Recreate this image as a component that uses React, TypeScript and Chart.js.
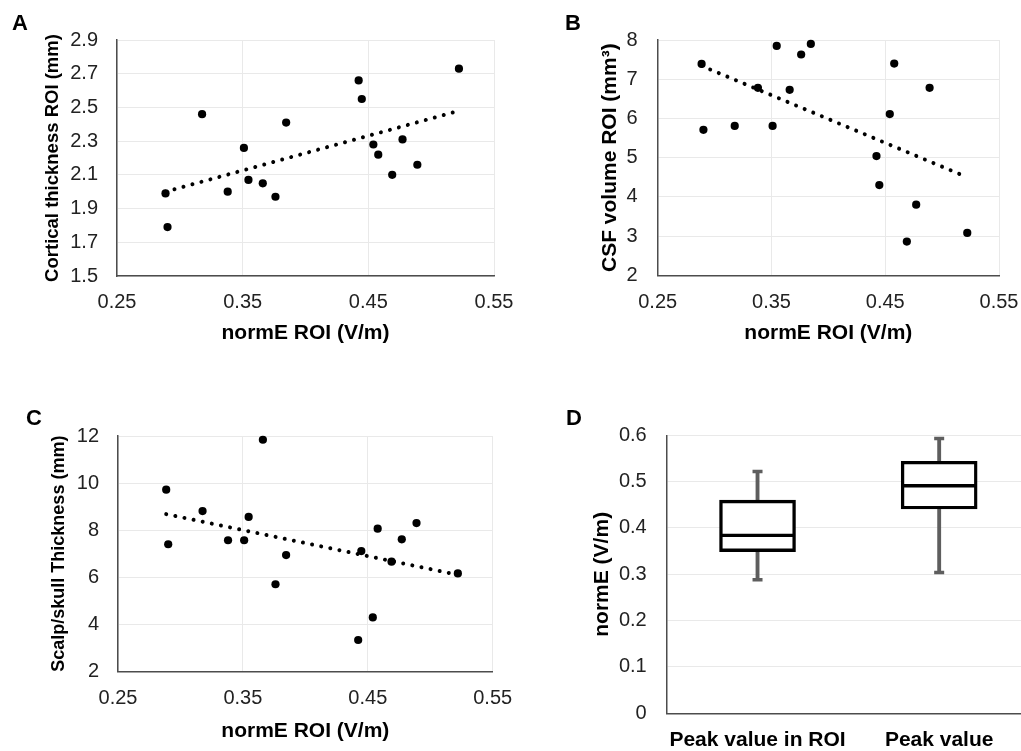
import React, { useEffect, useRef } from "react";
import { Chart, registerables } from "chart.js";
Chart.register(...registerables);

const FONT = "'Liberation Sans', Arial, Helvetica, sans-serif";

// Shared x values: normE in ROI (V/m), one per subject
const normE = [0.2886, 0.2902, 0.3177, 0.3381, 0.351, 0.3546, 0.366, 0.3761, 0.3846, 0.4423, 0.4448, 0.454, 0.4579, 0.469, 0.4772, 0.489, 0.5221];
// Panel A: cortical thickness ROI (mm)
const corticalThickness = [1.99, 1.79, 2.46, 2.0, 2.26, 2.07, 2.05, 1.97, 2.41, 2.66, 2.55, 2.28, 2.22, 2.1, 2.31, 2.16, 2.73];
// Panel B: CSF volume ROI (mm3)
const csfVolume = [7.39, 5.71, 5.81, 6.78, 5.81, 7.85, 6.73, 7.63, 7.9, 5.04, 4.3, 6.11, 7.4, 2.86, 3.8, 6.78, 3.08];
// Panel C: scalp/skull thickness (mm)
const scalpSkull = [9.72, 7.4, 8.81, 7.57, 7.57, 8.56, 11.84, 5.7, 6.94, 3.33, 7.11, 4.29, 8.06, 6.66, 7.61, 8.3, 6.16];

// Trend lines (at both ends)
const trendX = [0.2886, 0.5221];
const trendCortical = [2.0, 2.48];
const trendCsf = [7.34, 4.5];
const trendScalp = [8.68, 6.1];

// Axis ticks
const xTicksNormE = [0.25, 0.35, 0.45, 0.55];
const yTicksCortical = [1.5, 1.7, 1.9, 2.1, 2.3, 2.5, 2.7, 2.9];
const yTicksCsf = [2, 3, 4, 5, 6, 7, 8];
const yTicksScalp = [2, 4, 6, 8, 10, 12];
const yTicksBox = [0, 0.1, 0.2, 0.3, 0.4, 0.5, 0.6];

// Panel D box plot
const boxGroups = ["Peak value in ROI", "Peak value"];
const whiskerMin = [0.288, 0.304];
const boxQ1 = [0.349, 0.441];
const boxMedian = [0.384, 0.491];
const boxQ3 = [0.46, 0.544];
const whiskerMax = [0.522, 0.593];

const GRID = "#e9e9e9";
const AXIS = "#4d4d4d";
const WHISKER = "#5e5e5e";

const letterPlugin = (letter: string, x: number, y: number) => ({
  id: "letter" + letter,
  afterDraw(chart: any) {
    const ctx = chart.ctx;
    ctx.save();
    ctx.font = `bold 22px ${FONT}`;
    ctx.fillStyle = "#000";
    ctx.textBaseline = "alphabetic";
    ctx.textAlign = "left";
    ctx.fillText(letter, x, y);
    ctx.restore();
  },
});

type Frame = {
  cl: number; ct: number; cw: number; ch: number; // canvas rect
  L: number; T: number; R: number; B: number; // chart area (page coords)
};

function fixY(f: Frame) {
  return (s: any) => {
    s.width = f.L - f.cl;
    s.paddingTop = 0;
    s.paddingBottom = 0;
  };
}
function fixX(f: Frame) {
  return (s: any) => {
    s.height = f.ct + f.ch - f.B;
    s.paddingLeft = 0;
    s.paddingRight = 0;
  };
}

function scatterConfig(
  f: Frame,
  ys: number[],
  trendY: number[],
  yTicks: number[],
  yDec: number,
  yTitle: string,
  yTitleSize: number,
  yTitleCenter: number,
  yTickPad: number,
  xTickCenter: number,
  xTitleCenter: number,
  letter: string,
  lx: number,
  ly: number
) {
  const pts = normE.map((x, i) => ({ x, y: ys[i] }));
  const trend = trendX.map((x, i) => ({ x, y: trendY[i] }));
  return {
    type: "scatter",
    data: {
      datasets: [
        {
          type: "line",
          data: trend,
          borderColor: "#000",
          borderWidth: 4,
          borderDash: [0.01, 9.3],
          borderCapStyle: "round",
          pointRadius: 0,
          fill: false,
          tension: 0,
          clip: false,
        },
        {
          data: pts,
          backgroundColor: "#000",
          borderColor: "#000",
          pointRadius: 4.1,
          pointBorderWidth: 0,
          clip: false,
        },
      ],
    },
    options: {
      responsive: false,
      animation: false,
      devicePixelRatio: 1,
      layout: { autoPadding: false, padding: { left: 0, top: f.T - f.ct, right: f.cl + f.cw - f.R, bottom: 0 } },
      plugins: { legend: { display: false }, tooltip: { enabled: false } },
      scales: {
        x: {
          type: "linear",
          min: xTicksNormE[0],
          max: xTicksNormE[xTicksNormE.length - 1],
          afterFit: fixX(f),
          afterBuildTicks: (s: any) => {
            s.ticks = xTicksNormE.map((v) => ({ value: v }));
          },
          grid: { color: GRID, lineWidth: 1, drawTicks: false },
          border: { color: AXIS, width: 1.5 },
          ticks: {
            autoSkip: false,
            maxRotation: 0,
            padding: xTickCenter - f.B - 12,
            color: "#222",
            font: { family: FONT, size: 20 },
            callback: (v: any) => Number(v).toFixed(2),
          },
          title: {
            display: true,
            text: "normE ROI (V/m)",
            color: "#000",
            font: { family: FONT, size: 21, weight: "bold" },
            padding: { top: 0, bottom: f.ct + f.ch - xTitleCenter - 12.6 },
          },
        },
        y: {
          type: "linear",
          min: yTicks[0],
          max: yTicks[yTicks.length - 1],
          afterFit: fixY(f),
          afterBuildTicks: (s: any) => {
            s.ticks = yTicks.map((v) => ({ value: v }));
          },
          grid: { color: GRID, lineWidth: 1, drawTicks: false },
          border: { color: AXIS, width: 1.5 },
          ticks: {
            autoSkip: false,
            padding: yTickPad,
            color: "#222",
            font: { family: FONT, size: 20 },
            callback: (v: any) => Number(v).toFixed(yDec),
          },
          title: {
            display: true,
            text: yTitle,
            color: "#000",
            font: { family: FONT, size: yTitleSize, weight: "bold" },
            padding: { top: yTitleCenter - f.cl - (yTitleSize * 1.2) / 2, bottom: 0 },
          },
        },
      },
    },
    plugins: [letterPlugin(letter, lx - f.cl, ly - f.ct)],
  };
}

function boxConfig(f: Frame) {
  return {
    type: "bar",
    data: {
      labels: boxGroups,
      datasets: [
        {
          type: "line",
          data: boxMedian,
          showLine: false,
          pointStyle: "line",
          pointRadius: 36,
          pointBorderWidth: 3.4,
          pointBorderColor: "#000",
          order: 0,
        },
        {
          type: "line",
          data: whiskerMax,
          showLine: false,
          pointStyle: "line",
          pointRadius: 5,
          pointBorderWidth: 3.5,
          pointBorderColor: WHISKER,
          order: 0,
        },
        {
          type: "line",
          data: whiskerMin,
          showLine: false,
          pointStyle: "line",
          pointRadius: 5,
          pointBorderWidth: 3.5,
          pointBorderColor: WHISKER,
          order: 0,
        },
        {
          data: boxQ1.map((q, i) => [q, boxQ3[i]]),
          backgroundColor: "#fff",
          borderColor: "#000",
          borderWidth: 3.4,
          borderSkipped: false,
          barThickness: 76,
          grouped: false,
          order: 1,
        },
        {
          data: whiskerMin.map((m, i) => [m, boxQ1[i]]),
          backgroundColor: WHISKER,
          borderWidth: 0,
          barThickness: 3.2,
          grouped: false,
          order: 2,
        },
        {
          data: boxQ3.map((q, i) => [q, whiskerMax[i]]),
          backgroundColor: WHISKER,
          borderWidth: 0,
          barThickness: 3.2,
          grouped: false,
          order: 2,
        },
      ],
    },
    options: {
      responsive: false,
      animation: false,
      devicePixelRatio: 1,
      layout: { autoPadding: false, padding: { left: 0, top: f.T - f.ct, right: f.cl + f.cw - f.R, bottom: 0 } },
      plugins: { legend: { display: false }, tooltip: { enabled: false } },
      scales: {
        x: {
          type: "category",
          offset: true,
          afterFit: fixX(f),
          grid: { display: false, drawTicks: false },
          border: { color: AXIS, width: 1.5 },
          ticks: {
            autoSkip: false,
            maxRotation: 0,
            minRotation: 0,
            padding: 740 - f.B - 12.6,
            color: "#000",
            font: { family: FONT, size: 21, weight: "bold" },
          },
        },
        y: {
          type: "linear",
          min: yTicksBox[0],
          max: yTicksBox[yTicksBox.length - 1],
          afterFit: fixY(f),
          afterBuildTicks: (s: any) => {
            s.ticks = yTicksBox.map((v) => ({ value: v }));
          },
          grid: { color: GRID, lineWidth: 1, drawTicks: false },
          border: { color: AXIS, width: 1.5 },
          ticks: {
            autoSkip: false,
            padding: 20,
            color: "#222",
            font: { family: FONT, size: 20 },
            callback: (v: any) => (Number(v) === 0 ? "0" : Number(v).toFixed(1)),
          },
          title: {
            display: true,
            text: "normE (V/m)",
            color: "#000",
            font: { family: FONT, size: 21, weight: "bold" },
            padding: { top: 602.7 - f.cl - 12.6, bottom: 0 },
          },
        },
      },
    },
    plugins: [letterPlugin("D", 566 - f.cl, 425 - f.ct)],
  };
}

function ChartBox({ f, make }: { f: Frame; make: () => any }) {
  const ref = useRef<HTMLCanvasElement>(null);
  useEffect(() => {
    const chart = new Chart(ref.current as HTMLCanvasElement, make());
    return () => chart.destroy();
  }, []);
  return (
    <canvas
      ref={ref}
      width={f.cw}
      height={f.ch}
      style={{ position: "absolute", left: f.cl, top: f.ct, width: f.cw, height: f.ch }}
    />
  );
}

const frameA: Frame = { cl: 0, ct: 0, cw: 514, ch: 370, L: 117, T: 40, R: 494, B: 276 };
const frameB: Frame = { cl: 520, ct: 0, cw: 501, ch: 370, L: 657.7, T: 40, R: 999, B: 275.3 };
const frameC: Frame = { cl: 0, ct: 380, cw: 514, ch: 371, L: 118, T: 436, R: 492.7, B: 671.3 };
const frameD: Frame = { cl: 520, ct: 380, cw: 520, ch: 371, L: 666.7, T: 435.3, R: 1030, B: 713.3 };

export default function App() {
  return (
    <div
      style={{
        position: "absolute",
        left: 0,
        top: 0,
        width: 1021,
        height: 751,
        overflow: "hidden",
        background: "#fff",
      }}
    >
      <ChartBox
        f={frameA}
        make={() =>
          scatterConfig(frameA, corticalThickness, trendCortical, yTicksCortical, 1,
            "Cortical thickness ROI (mm)", 18.5, 52.5, 19, 302, 333, "A", 12, 30)
        }
      />
      <ChartBox
        f={frameB}
        make={() =>
          scatterConfig(frameB, csfVolume, trendCsf, yTicksCsf, 0,
            "CSF volume ROI (mm³)", 21, 610, 20, 302, 333, "B", 565, 30)
        }
      />
      <ChartBox
        f={frameC}
        make={() =>
          scatterConfig(frameC, scalpSkull, trendScalp, yTicksScalp, 0,
            "Scalp/skull Thickness (mm)", 18, 59, 19, 698.3, 731, "C", 26, 425)
        }
      />
      <ChartBox f={frameD} make={() => boxConfig(frameD)} />
    </div>
  );
}
